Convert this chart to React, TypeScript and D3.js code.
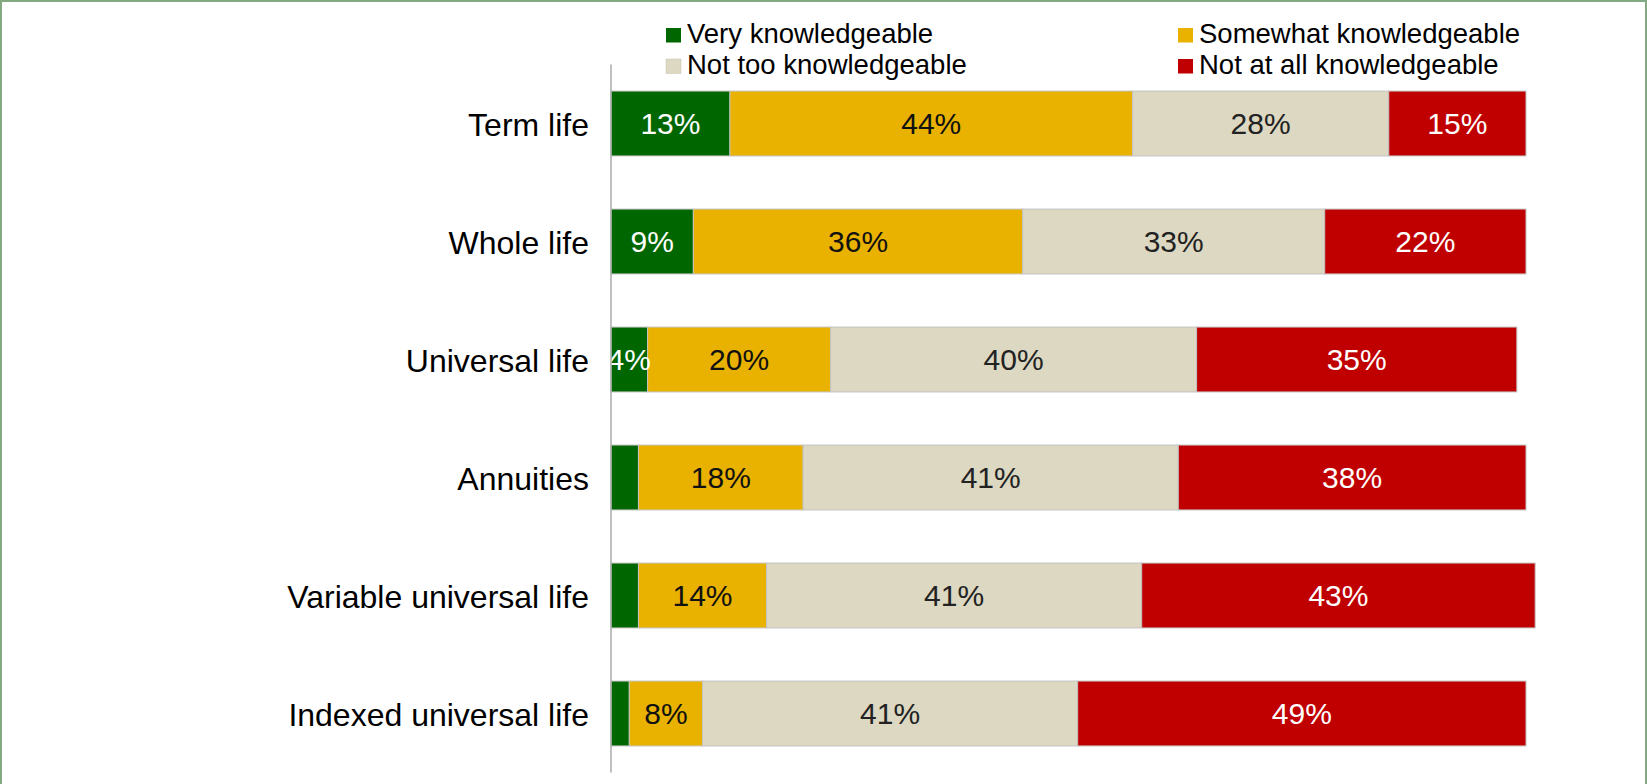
import React, { useEffect } from "react";
import * as d3 from "d3";

const categories = [
  "Term life",
  "Whole life",
  "Universal life",
  "Annuities",
  "Variable universal life",
  "Indexed universal life",
];
const seriesNames = [
  "Very knowledgeable",
  "Somewhat knowledgeable",
  "Not too knowledgeable",
  "Not at all knowledgeable",
];
const veryValues = [13, 9, 4, 3, 3, 2];
const somewhatValues = [44, 36, 20, 18, 14, 8];
const notTooValues = [28, 33, 40, 41, 41, 41];
const notAtAllValues = [15, 22, 35, 38, 43, 49];
// labels are hidden on the smallest green slices, as in the original
const labelMin = 4;

const colors = ["#006600", "#E9B200", "#DCD8C2", "#C00000"];
const labelColors = ["#ffffff", "#111111", "#222222", "#ffffff"];

const W = 1647;
const H = 784;

const App = () => {
  useEffect(() => {
    document.body.style.margin = "0";
  }, []);

  const seriesValues = [veryValues, somewhatValues, notTooValues, notAtAllValues];
  const rows = categories.map((cat, i) => {
    const row: any = { cat };
    seriesNames.forEach((s, k) => (row[s] = seriesValues[k][i]));
    return row;
  });
  const stacked = d3.stack().keys(seriesNames)(rows);

  const x = d3.scaleLinear().domain([0, 100]).range([611, 1526]);
  const y = d3
    .scaleBand()
    .domain(categories)
    .range([64.5, 772.5])
    .paddingInner(0.45)
    .paddingOuter(0.225);

  const font = "'Liberation Sans', Arial, sans-serif";
  const legendX = [666, 1178];
  const legendY = [28, 59];

  return (
    <svg width={W} height={H} style={{ display: "block", background: "#fff" }} fontFamily={font}>
      <rect x={1} y={1} width={W - 2} height={H + 10} fill="none" stroke="#82a982" strokeWidth={2} />

      {/* legend */}
      {seriesNames.map((name, k) => {
        const lx = legendX[k % 2];
        const ly = legendY[Math.floor(k / 2)];
        return (
          <g key={name}>
            <rect x={lx} y={ly} width={15} height={14.5} fill={colors[k]} stroke={k === 2 ? "#c8c4b0" : "none"} strokeWidth={0.5} />
            <text x={lx + 21} y={ly + 14.5} fontSize={27.5} fill="#000">
              {name}
            </text>
          </g>
        );
      })}

      {/* bars */}
      {stacked.map((layer, k) => (
        <g key={layer.key}>
          {layer.map((d, i) => (
            <rect
              key={categories[i]}
              x={x(d[0])}
              y={y(categories[i])}
              width={x(d[1]) - x(d[0])}
              height={y.bandwidth()}
              fill={colors[k]}
              stroke="#c4c4c4"
              strokeWidth={1}
            />
          ))}
        </g>
      ))}

      {/* value labels */}
      {stacked.map((layer, k) =>
        layer.map((d, i) => {
          const v = seriesValues[k][i];
          if (k === 0 && v < labelMin) return null;
          return (
            <text
              key={`${layer.key}-${i}`}
              x={(x(d[0]) + x(d[1])) / 2}
              y={(y(categories[i]) as number) + y.bandwidth() / 2 + 10.5}
              textAnchor="middle"
              fontSize={30}
              fill={labelColors[k]}
            >
              {v}%
            </text>
          );
        })
      )}

      {/* axis */}
      <line x1={x(0)} x2={x(0)} y1={64.5} y2={772.5} stroke="#a8aca8" strokeWidth={1.5} />

      {/* category labels */}
      {categories.map((cat) => (
        <text
          key={cat}
          x={589}
          y={(y(cat) as number) + y.bandwidth() / 2 + 12.5}
          textAnchor="end"
          fontSize={32}
          fill="#000"
        >
          {cat}
        </text>
      ))}
    </svg>
  );
};

export default App;
